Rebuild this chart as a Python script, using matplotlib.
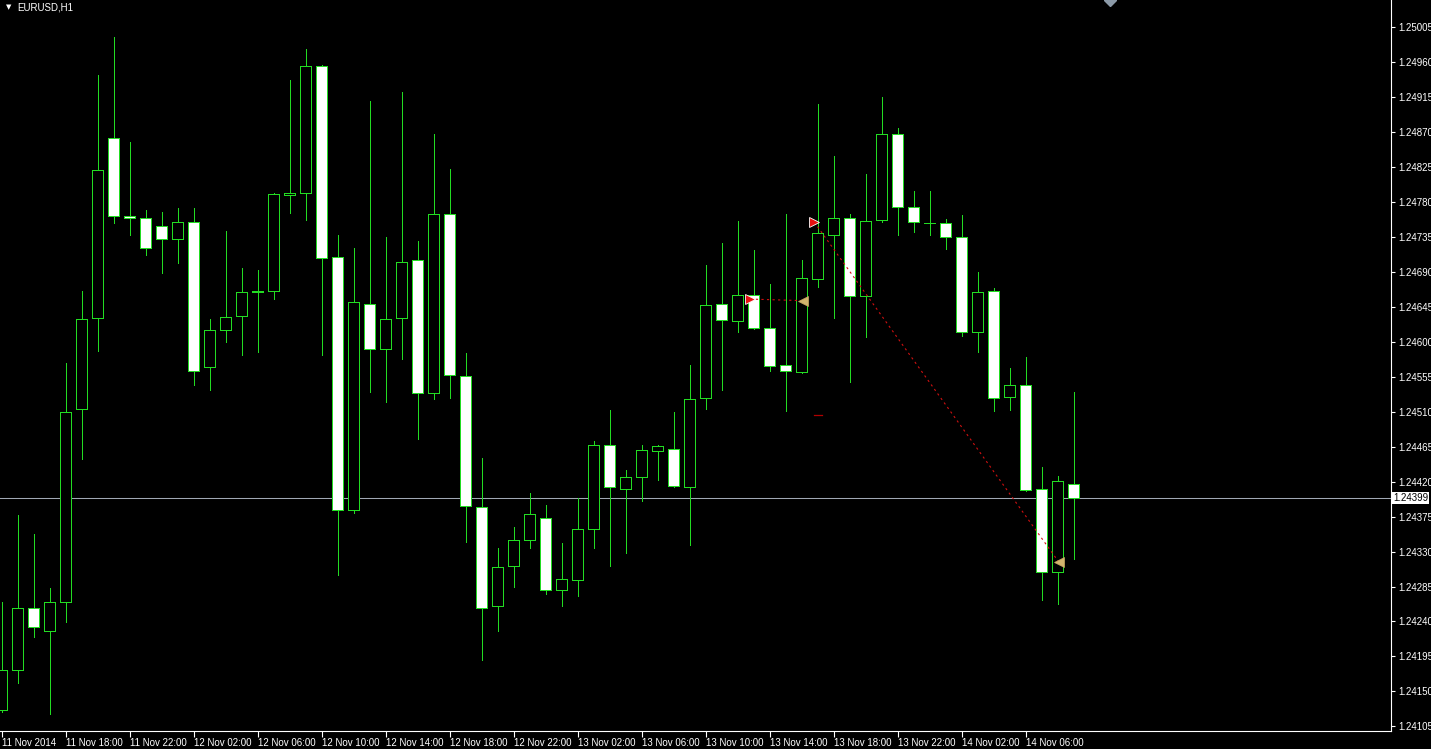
import numpy as np
import matplotlib.pyplot as plt
from matplotlib.transforms import blended_transform_factory

plt.rcParams['font.family'] = ['Liberation Sans', 'DejaVu Sans']

# EURUSD H1 bars, 11 Nov 2014 14:00 .. 14 Nov 2014 09:00
opens = [1.24126, 1.24177, 1.24257, 1.24228, 1.24265, 1.24514, 1.24631, 1.24862,
         1.24762, 1.24760, 1.24749, 1.24732, 1.24754, 1.24567, 1.24615, 1.24633,
         1.24664, 1.24666, 1.24789, 1.24792, 1.24955, 1.24709, 1.24383, 1.24649,
         1.24591, 1.24631, 1.24705, 1.24534, 1.24764, 1.24556, 1.24387, 1.24260,
         1.24312, 1.24345, 1.24373, 1.24281, 1.24293, 1.24359, 1.24467, 1.24410,
         1.24426, 1.24460, 1.24462, 1.24413, 1.24528, 1.24649, 1.24627, 1.24660,
         1.24618, 1.24570, 1.24561, 1.24681, 1.24738, 1.24760, 1.24659, 1.24757,
         1.24868, 1.24774, 1.24753, 1.24753, 1.24735, 1.24613, 1.24665, 1.24529,
         1.24544, 1.24411, 1.24304, 1.24417]
highs = [1.24265, 1.24377, 1.24353, 1.24283, 1.24573, 1.24666, 1.24944, 1.24992,
         1.24857, 1.24770, 1.24767, 1.24772, 1.24772, 1.24629, 1.24743, 1.24695,
         1.24693, 1.24791, 1.24937, 1.24977, 1.24956, 1.24737, 1.24721, 1.24910,
         1.24735, 1.24921, 1.24730, 1.24868, 1.24822, 1.24585, 1.24451, 1.24335,
         1.24361, 1.24405, 1.24390, 1.24341, 1.24399, 1.24472, 1.24512, 1.24435,
         1.24467, 1.24467, 1.24510, 1.24570, 1.24699, 1.24727, 1.24756, 1.24718,
         1.24674, 1.24764, 1.24705, 1.24906, 1.24839, 1.24765, 1.24816, 1.24915,
         1.24875, 1.24794, 1.24794, 1.24758, 1.24763, 1.24690, 1.24669, 1.24566,
         1.24580, 1.24439, 1.24427, 1.24535]
lows = [1.24124, 1.24161, 1.24220, 1.24121, 1.24239, 1.24449, 1.24588, 1.24753,
        1.24738, 1.24712, 1.24689, 1.24701, 1.24544, 1.24538, 1.24600, 1.24583,
        1.24587, 1.24655, 1.24766, 1.24757, 1.24583, 1.24300, 1.24379, 1.24536,
        1.24523, 1.24578, 1.24475, 1.24527, 1.24528, 1.24342, 1.24190, 1.24228,
        1.24285, 1.24335, 1.24275, 1.24260, 1.24273, 1.24334, 1.24312, 1.24328,
        1.24395, 1.24422, 1.24413, 1.24339, 1.24514, 1.24538, 1.24612, 1.24617,
        1.24563, 1.24511, 1.24560, 1.24670, 1.24631, 1.24548, 1.24606, 1.24754,
        1.24738, 1.24741, 1.24738, 1.24719, 1.24607, 1.24587, 1.24511, 1.24512,
        1.24408, 1.24267, 1.24262, 1.24320]
closes = [1.24177, 1.24257, 1.24233, 1.24265, 1.24510, 1.24629, 1.24821, 1.24762,
          1.24760, 1.24721, 1.24732, 1.24754, 1.24563, 1.24615, 1.24632, 1.24664,
          1.24666, 1.24790, 1.24791, 1.24955, 1.24708, 1.24383, 1.24651, 1.24591,
          1.24630, 1.24703, 1.24534, 1.24765, 1.24557, 1.24388, 1.24257, 1.24310,
          1.24345, 1.24378, 1.24280, 1.24295, 1.24359, 1.24467, 1.24413, 1.24426,
          1.24461, 1.24466, 1.24414, 1.24527, 1.24647, 1.24628, 1.24660, 1.24618,
          1.24569, 1.24562, 1.24682, 1.24740, 1.24759, 1.24659, 1.24756, 1.24868,
          1.24774, 1.24754, 1.24753, 1.24735, 1.24613, 1.24664, 1.24528, 1.24544,
          1.24409, 1.24304, 1.24421, 1.24399]

# time axis labels (every 4th bar)
time_labels = ['11 Nov 2014', '11 Nov 18:00', '11 Nov 22:00', '12 Nov 02:00',
               '12 Nov 06:00', '12 Nov 10:00', '12 Nov 14:00', '12 Nov 18:00',
               '12 Nov 22:00', '13 Nov 02:00', '13 Nov 06:00', '13 Nov 10:00',
               '13 Nov 14:00', '13 Nov 18:00', '13 Nov 22:00', '14 Nov 02:00',
               '14 Nov 06:00']
time_bars = [0, 4, 8, 12, 16, 20, 24, 28, 32, 36, 40, 44, 48, 52, 56, 60, 64]

price_ticks = [1.24105, 1.24150, 1.24195, 1.24240, 1.24285, 1.24330, 1.24375,
               1.24420, 1.24465, 1.24510, 1.24555, 1.24600, 1.24645, 1.24690,
               1.24735, 1.24780, 1.24825, 1.24870, 1.24915, 1.24960, 1.25005]
last_price = 1.24399

# trades: open bar/price -> close bar/price
trade_open_bars = [47, 51]
trade_open_prices = [1.24655, 1.24754]
trade_close_bars = [50, 66]
trade_close_prices = [1.24653, 1.24316]
stop_bar = 51
stop_price = 1.24506

green = '#22dc22'
W, H = 1431, 749

fig = plt.figure(figsize=(W / 100, H / 100), dpi=100, facecolor='black')
ax = fig.add_axes([0, 18 / H, 1391 / W, 731 / H], facecolor='black')

x = np.arange(len(opens))
o = np.array(opens)
c = np.array(closes)

# current price line (behind candles)
ax.axhline(last_price, color='#a0a8b4', lw=0.75, zorder=1)

# wicks
ax.vlines(x, lows, highs, color=green, lw=0.72, zorder=2, antialiased=False)

# bodies: bull hollow (black), bear filled white
bottoms = np.minimum(o, c)
heights = np.maximum(np.abs(c - o), 0.000004)
faces = np.where(c < o, 'white', 'black')
ax.bar(x, heights, bottom=bottoms, width=0.69, color=faces, edgecolor=green,
       linewidth=0.72, zorder=3, antialiased=False)

# trade lines and markers
for b0, p0, b1, p1 in zip(trade_open_bars, trade_open_prices,
                          trade_close_bars, trade_close_prices):
    ax.plot([b0 - 0.2, b1 + 0.1], [p0, p1], color='#d01010', lw=0.8,
            ls=(0, (2, 3)), zorder=5)
    ax.plot(b0 - 0.2, p0, marker='>', ms=7, color='#e81010',
            mec='white', mew=0.6, zorder=6)
    ax.plot(b1 + 0.1, p1, marker='<', ms=7, color='#d2b46e',
            mec='#c8a860', mew=0.5, zorder=6)
ax.plot([stop_bar - 0.25, stop_bar + 0.25], [stop_price, stop_price],
        color='#b00000', lw=0.9, zorder=5)

ax.set_xlim(-1.5 / 16, 1389.5 / 16)
ax.set_ylim(1.24099, 1.25040)

# axes frame
for side in ['left', 'top']:
    ax.spines[side].set_visible(False)
for side in ['right', 'bottom']:
    ax.spines[side].set_color('white')
    ax.spines[side].set_linewidth(0.8)

ax.yaxis.tick_right()
ax.set_yticks(price_ticks)
ax.set_yticklabels(['%.5f' % p for p in price_ticks])
ax.tick_params(axis='y', colors='white', length=3, width=0.8, pad=2,
               labelsize=7)

ax.set_xticks(time_bars)
ax.set_xticklabels(time_labels)
ax.tick_params(axis='x', colors='white', length=4, width=0.8, pad=1,
               labelsize=7)
for lbl in ax.get_xticklabels():
    lbl.set_ha('left')

# last price box on the scale
trans = blended_transform_factory(ax.transAxes, ax.transData)
ax.text(1.0015, last_price, '%.5f' % last_price, transform=trans, ha='left',
        va='center', fontsize=7, color='black', zorder=10, clip_on=False,
        bbox=dict(facecolor='white', edgecolor='none', pad=0.8))

# chart shift marker at the top
ax.plot(69.3, 1.0, marker='D', ms=6, color='#8c9aa8',
        transform=blended_transform_factory(ax.transData, ax.transAxes),
        clip_on=True, zorder=6)

# symbol title
fig.text(9 / W, 1 - 7 / H, '\u25bc', color='white', fontsize=5,
         ha='center', va='center', family='DejaVu Sans')
fig.text(17 / W, 1 - 7 / H, 'EURUSD,H1', color='white', fontsize=7,
         ha='left', va='center')

fig.savefig('out.png', dpi=100, facecolor='black')
